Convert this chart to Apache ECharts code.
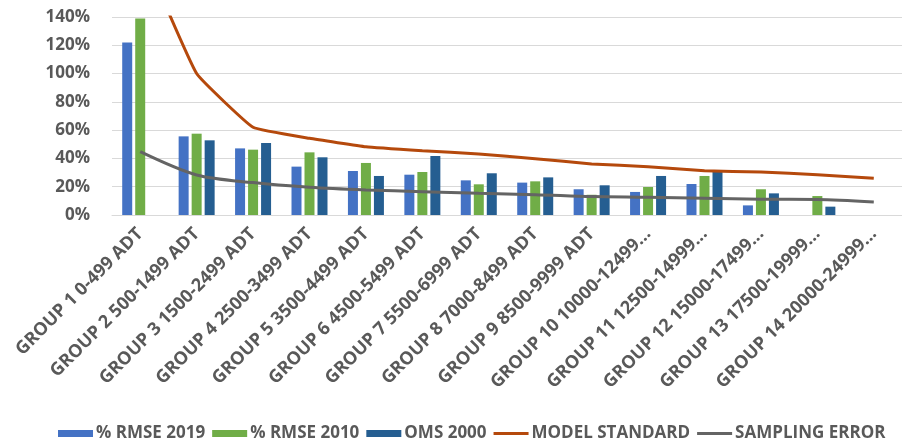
<!DOCTYPE html>
<html>
<head>
<meta charset="utf-8">
<script src="https://cdn.jsdelivr.net/npm/echarts@6/dist/echarts.min.js"></script>
<style>
  html, body { margin: 0; padding: 0; background: #ffffff; }
  #chart { width: 902px; height: 443px; }
</style>
</head>
<body>
<div id="chart"></div>
<script>
// Traffic volume groups (ADT ranges)
const categories = [
  'GROUP 1 0-499 ADT',
  'GROUP 2 500-1499 ADT',
  'GROUP 3 1500-2499 ADT',
  'GROUP 4 2500-3499 ADT',
  'GROUP 5 3500-4499 ADT',
  'GROUP 6 4500-5499 ADT',
  'GROUP 7 5500-6999 ADT',
  'GROUP 8 7000-8499 ADT',
  'GROUP 9 8500-9999 ADT',
  'GROUP 10 10000-12499 ADT',
  'GROUP 11 12500-14999 ADT',
  'GROUP 12 15000-17499 ADT',
  'GROUP 13 17500-19999 ADT',
  'GROUP 14 20000-24999 ADT'
];

// Percent values per group; '-' marks a group with no value
const rmse2019 = [122, 55.6, 47.1, 34.2, 31.1, 28.5, 24.5, 22.9, 18.2, 16.3, 21.9, 6.8, '-', '-'];
const rmse2010 = [139, 57.5, 46.2, 44.3, 36.8, 30.4, 21.7, 23.8, 14.3, 19.8, 27.6, 18.2, 13.4, '-'];
const oms2000 = ['-', 52.8, 50.9, 40.8, 27.6, 41.7, 29.5, 26.6, 21.0, 27.6, 30.4, 15.3, 5.9, '-'];
const modelStandard = [190, 100, 62, 54.2, 48.3, 45.5, 43.1, 39.8, 36.1, 34.2, 31.3, 30.4, 28.5, 26];
const samplingError = [44.8, 28.3, 22.9, 19.6, 17.7, 16.5, 15.3, 14.4, 13.0, 12.5, 11.8, 11.1, 11.0, 9.2];

const yTicks = { min: 0, max: 140, interval: 20 };

const seriesNames = ['% RMSE 2019', '% RMSE 2010', 'OMS 2000', 'MODEL STANDARD', 'SAMPLING ERROR'];
const seriesColors = ['#4472C4', '#70AD47', '#255E91', '#B5490C', '#646464'];

const labelFont = {
  fontFamily: 'Open Sans',
  fontWeight: 'bold',
  color: '#595959'
};

// thin horizontal stroke centred in the legend icon box
const lineIcon = 'path://M0,0 L0.01,0 L0.01,0.01 Z M0,2 L35,2 L35,5 L0,5 Z M0,7 L0.01,7 L0.01,6.99 Z';

function shortLabel(s) {
  return s.length > 21 ? s.slice(0, 20) + '...' : s;
}

const chart = echarts.init(document.getElementById('chart'), null, { renderer: 'canvas' });

const barSeries = [rmse2019, rmse2010, oms2000].map((d, i) => ({
  name: seriesNames[i],
  type: 'bar',
  data: d,
  barWidth: 10,
  barGap: '30%',
  itemStyle: { color: seriesColors[i] },
  z: 2
}));

const lineSeries = [modelStandard, samplingError].map((d, i) => ({
  name: seriesNames[3 + i],
  type: 'line',
  data: d,
  symbol: 'none',
  smooth: i === 1 ? 0.3 : 0.1,
  lineStyle: { color: seriesColors[3 + i], width: 3 },
  itemStyle: { color: seriesColors[3 + i] },
  z: 3
}));

chart.setOption({
  animation: false,
  backgroundColor: '#ffffff',
  grid: { left: 112, top: 17, width: 802, height: 198, containLabel: false },
  legend: {
    data: seriesNames.map((n, i) => i < 3
      ? { name: n, icon: 'rect' }
      : { name: n, icon: lineIcon }),
    left: 53,
    top: 420,
    itemGap: 7,
    itemWidth: 35,
    itemHeight: 7,
    textStyle: Object.assign({ fontSize: 17, padding: [0, 0, 0, -2] }, labelFont)
  },
  xAxis: {
    type: 'category',
    data: categories,
    axisLine: { lineStyle: { color: '#d9d9d9', width: 1 } },
    axisTick: { show: false },
    axisLabel: Object.assign({
      rotate: 45,
      interval: 0,
      margin: 16,
      fontSize: 18,
      formatter: shortLabel
    }, labelFont)
  },
  yAxis: {
    type: 'value',
    min: yTicks.min,
    max: yTicks.max,
    interval: yTicks.interval,
    axisLine: { show: false },
    axisTick: { show: false },
    splitLine: { lineStyle: { color: '#d9d9d9', width: 1 } },
    axisLabel: Object.assign({
      margin: 22,
      fontSize: 17,
      formatter: v => v + '%'
    }, labelFont)
  },
  series: barSeries.concat(lineSeries)
});
</script>
</body>
</html>
